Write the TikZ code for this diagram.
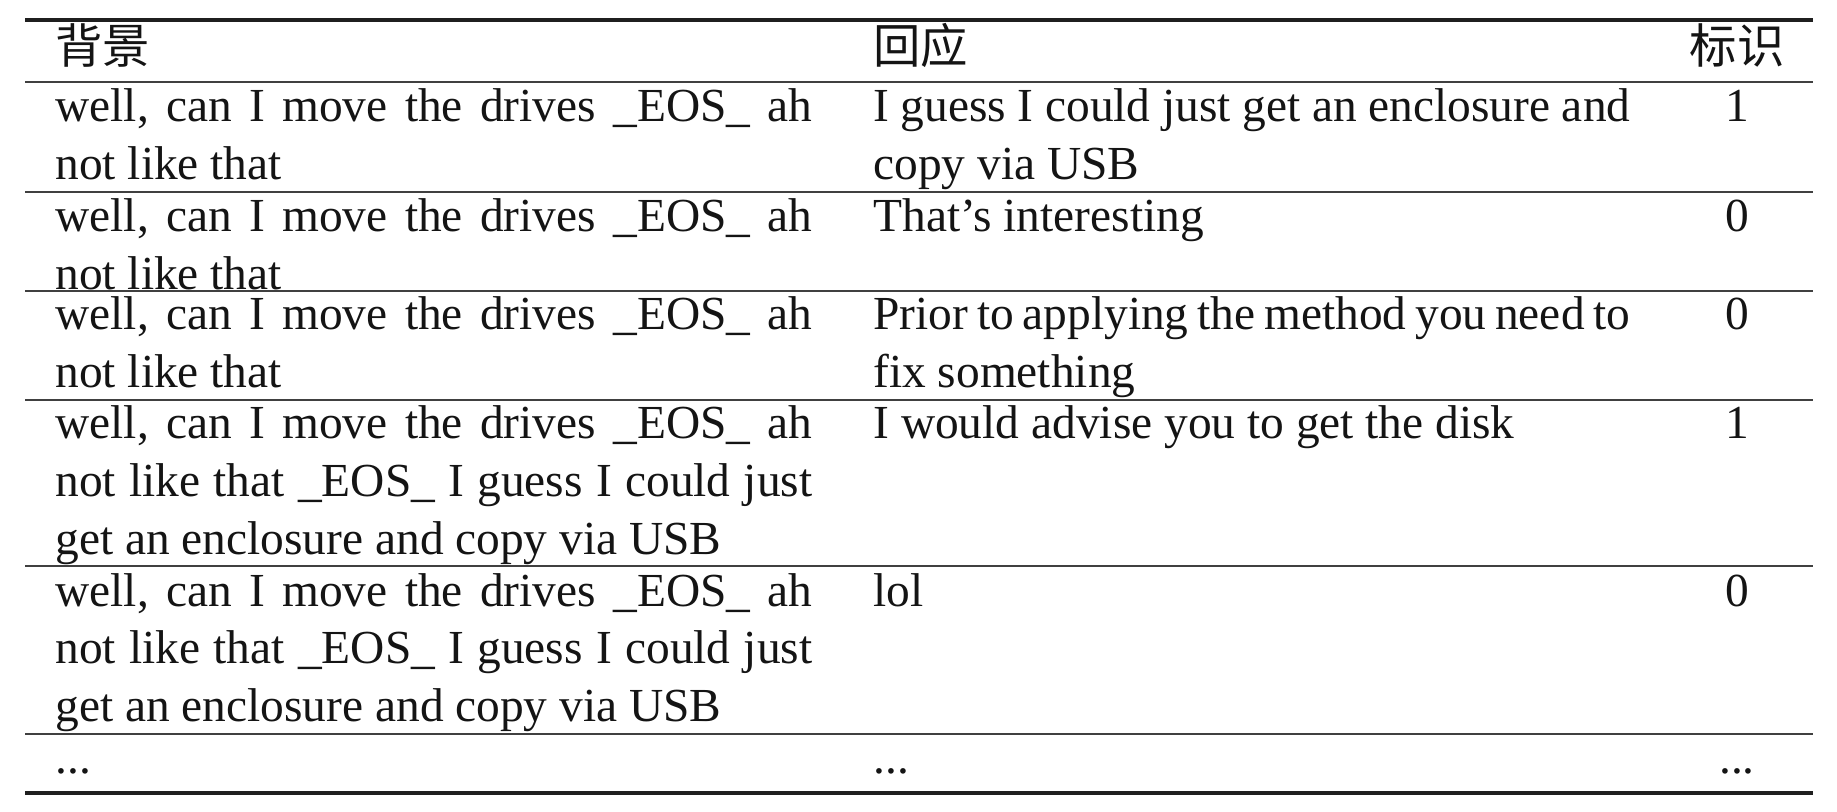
\documentclass[tikz,border=0pt]{standalone}
\usepackage{fontspec}
\setmainfont{Liberation Serif}
\newfontfamily\cjk{Noto Sans CJK SC}
\newcommand\jline[1]{\makebox[378.5pt][s]{#1}}
\begin{document}
\frenchspacing
\begin{tikzpicture}[x=0.5pt,y=-0.5pt,
  cell/.style={anchor=base west,inner sep=0pt,text=black!92,font=\fontsize{23.7pt}{28.75pt}\selectfont},
  num/.style={anchor=base,inner sep=0pt,text=black!92,font=\fontsize{23.7pt}{28.75pt}\selectfont},
  thickrule/.style={line width=1.75pt,draw=black!88},
  thinrule/.style={line width=0.8pt,draw=black!75}]
\useasboundingbox[fill=white] (0,0) rectangle (1837,812);
% rules
\draw[thickrule] (25,20) -- (1813,20);
\draw[thinrule] (25,82) -- (1813,82);
\draw[thinrule] (25,192) -- (1813,192);
\draw[thinrule] (25,291) -- (1813,291);
\draw[thinrule] (25,400) -- (1813,400);
\draw[thinrule] (25,566) -- (1813,566);
\draw[thinrule] (25,734) -- (1813,734);
\draw[thickrule] (25,793) -- (1813,793);
% header
\node[cell] (h1) at (55,64) {\cjk 背景};
\node[cell] (h2) at (873,64) {\cjk 回应};
\node[num]  (h3) at (1737,64) {\cjk 标识};
% row 1
\node[cell] (r1a1) at (55,122) {\jline{well, can I move the drives \_EOS\_ ah}};
\node[cell] (r1a2) at (55,179.5) {not like that};
\node[cell] (r1b1) at (873,122) {\jline{I guess I could just get an enclosure and}};
\node[cell] (r1b2) at (873,179.5) {copy via USB};
\node[num]  (r1c)  at (1737,122) {1};
% row 2
\node[cell] (r2a1) at (55,232) {\jline{well, can I move the drives \_EOS\_ ah}};
\node[cell] (r2a2) at (55,289.5) {not like that};
\node[cell] (r2b1) at (873,232) {That’s interesting};
\node[num]  (r2c)  at (1737,232) {0};
% row 3
\node[cell] (r3a1) at (55,330) {\jline{well, can I move the drives \_EOS\_ ah}};
\node[cell] (r3a2) at (55,387.5) {not like that};
\node[cell] (r3b1) at (873,330) {\jline{Prior to applying the method you need to}};
\node[cell] (r3b2) at (873,387.5) {fix something};
\node[num]  (r3c)  at (1737,330) {0};
% row 4
\node[cell] (r4a1) at (55,439) {\jline{well, can I move the drives \_EOS\_ ah}};
\node[cell] (r4a2) at (55,496.5) {\jline{not like that \_EOS\_ I guess I could just}};
\node[cell] (r4a3) at (55,554) {get an enclosure and copy via USB};
\node[cell] (r4b1) at (873,439) {I would advise you to get the disk};
\node[num]  (r4c)  at (1737,439) {1};
% row 5
\node[cell] (r5a1) at (55,606) {\jline{well, can I move the drives \_EOS\_ ah}};
\node[cell] (r5a2) at (55,663.5) {\jline{not like that \_EOS\_ I guess I could just}};
\node[cell] (r5a3) at (55,721) {get an enclosure and copy via USB};
\node[cell] (r5b1) at (873,606) {lol};
\node[num]  (r5c)  at (1737,606) {0};
% row 6
\node[cell] (r6a) at (55,773) {...};
\node[cell] (r6b) at (873,773) {...};
\node[num]  (r6c) at (1737,773) {...};
\end{tikzpicture}
\end{document}
